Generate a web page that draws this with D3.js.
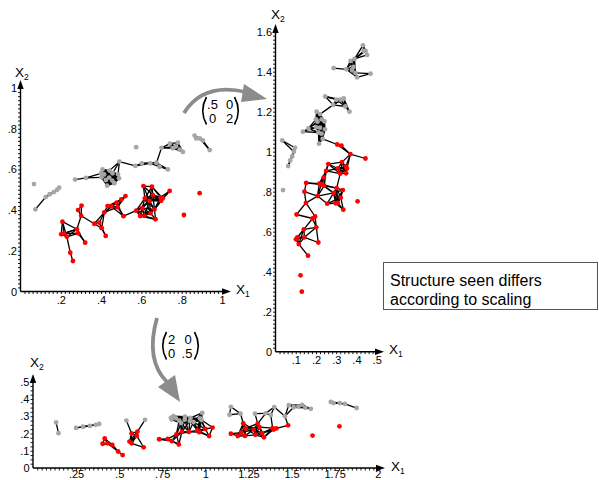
<!DOCTYPE html>
<html>
<head>
<meta charset="utf-8">
<script src="https://cdn.jsdelivr.net/npm/d3@7"></script>
<style>
  body { margin: 0; background: #fff; }
  svg text { font-family: "Liberation Sans", Arial, Helvetica, sans-serif; fill: #000; }
</style>
</head>
<body>
<svg id="fig" width="599" height="480"></svg>
<script>
// Class 1 (grey) samples, original units (x1, x2)
const greyX1 = [0.067, 0.074, 0.125, 0.145, 0.165, 0.182, 0.192, 0.271, 0.325,
  0.407, 0.400, 0.402, 0.430, 0.441, 0.457, 0.484, 0.489, 0.466, 0.424, 0.415, 0.440, 0.455,
  0.491, 0.574, 0.570, 0.602, 0.644, 0.675, 0.690, 0.731,
  0.700, 0.742, 0.781, 0.790, 0.806, 0.756, 0.770,
  0.864, 0.872, 0.890, 0.905, 0.939];
const greyX2 = [0.528, 0.404, 0.464, 0.478, 0.488, 0.500, 0.510, 0.550, 0.558,
  0.600, 0.581, 0.561, 0.520, 0.594, 0.581, 0.576, 0.556, 0.532, 0.548, 0.575, 0.560, 0.545,
  0.638, 0.709, 0.617, 0.630, 0.630, 0.633, 0.613, 0.600,
  0.706, 0.727, 0.732, 0.697, 0.686, 0.704, 0.712,
  0.766, 0.752, 0.752, 0.742, 0.695];

// Class 2 (red) samples, original units (x1, x2)
const redX1 = [0.208, 0.202, 0.216, 0.230, 0.247, 0.260, 0.280, 0.286, 0.321, 0.286, 0.303, 0.301,
  0.366, 0.391, 0.403, 0.423, 0.416, 0.432, 0.452, 0.477, 0.482, 0.500, 0.521, 0.511,
  0.574, 0.594, 0.604, 0.615, 0.617, 0.610, 0.652, 0.657, 0.665, 0.670, 0.695, 0.706, 0.698, 0.740, 0.640, 0.645,
  0.811, 0.889];
const redX2 = [0.343, 0.281, 0.286, 0.269, 0.191, 0.150, 0.306, 0.286, 0.240, 0.400, 0.422, 0.372,
  0.333, 0.338, 0.311, 0.273, 0.389, 0.420, 0.418, 0.436, 0.415, 0.452, 0.469, 0.370,
  0.397, 0.371, 0.409, 0.372, 0.458, 0.518, 0.515, 0.474, 0.404, 0.355, 0.463, 0.458, 0.446, 0.494, 0.445, 0.385,
  0.376, 0.483];

// Diagonal scaling applied to each view: [factor on x1, factor on x2]
const scalings = [[1, 1], [0.5, 2], [2, 0.5]];

// Tick values per view
const xTicksA = [0.2, 0.4, 0.6, 0.8, 1];
const yTicksA = [0, 0.2, 0.4, 0.6, 0.8, 1];
const xTicksB = [0.1, 0.2, 0.3, 0.4, 0.5];
const yTicksB = [0, 0.2, 0.4, 0.6, 0.8, 1, 1.2, 1.4, 1.6];
const xTicksC = [0.25, 0.5, 0.75, 1, 1.25, 1.5, 1.75, 2];
const yTicksC = [0, 0.1, 0.2, 0.3, 0.4, 0.5];

// Points closer than this (in each view's own units) are joined
const linkRadius = 0.082;

const svg = d3.select("#fig");
const fmt = v => String(v).replace(/^0\./, ".");

const samples = greyX1.map((v, i) => ({ x1: v, x2: greyX2[i], cls: "grey" }))
  .concat(redX1.map((v, i) => ({ x1: v, x2: redX2[i], cls: "red" })));

const views = [
  { s: scalings[0], xd: [0, 1], yd: [0, 1], xr: [20.5, 222], yr: [291.5, 88],
    xt: xTicksA, yt: yTicksA, xm: 0.02, ym: 0.02, xEnd: 231, yEnd: 80, xPad: 4.5,
    x1Lab: [236, 294], x2Lab: [15, 77] },
  { s: scalings[1], xd: [0, 0.5], yd: [0, 1.6], xr: [275.5, 376.7], yr: [351.7, 31.7],
    xt: xTicksB, yt: yTicksB, xm: 0.02, ym: 0.02, xEnd: 384, yEnd: 24, xPad: 4.5,
    x1Lab: [389, 354], x2Lab: [271, 19] },
  { s: scalings[2], xd: [0, 2], yd: [0, 0.5], xr: [33, 377.7], yr: [468, 381.7],
    xt: xTicksC, yt: yTicksC, xm: 0.025, ym: 0.025, xEnd: 385, yEnd: 374, xPad: 2,
    x1Lab: [391, 471], x2Lab: [30, 367] }
];

function axisTitle(g, pos, sub) {
  const t = g.append("text").attr("x", pos[0]).attr("y", pos[1]).attr("font-size", 13.5);
  t.append("tspan").text("X");
  t.append("tspan").attr("font-size", 8.5).attr("dy", 3).text(sub);
}

views.forEach(v => {
  const g = svg.append("g");
  const x = d3.scaleLinear().domain(v.xd).range(v.xr);
  const y = d3.scaleLinear().domain(v.yd).range(v.yr);
  const ox = x(0), oy = y(0);

  // minor ticks
  const nx = Math.round(v.xd[1] / v.xm), ny = Math.round(v.yd[1] / v.ym);
  g.append("g").attr("transform", `translate(0,${oy})`)
    .call(d3.axisBottom(x).tickValues(d3.range(1, nx + 1).map(i => i * v.xm)).tickSize(2.5).tickFormat(""))
    .call(a => a.select(".domain").remove())
    .selectAll("line").attr("stroke", "#000").attr("stroke-width", 0.9);
  g.append("g").attr("transform", `translate(${ox},0)`)
    .call(d3.axisLeft(y).tickValues(d3.range(1, ny + 1).map(i => i * v.ym)).tickSize(2.5).tickFormat(""))
    .call(a => a.select(".domain").remove())
    .selectAll("line").attr("stroke", "#000").attr("stroke-width", 0.9);

  // tick labels
  g.append("g").attr("transform", `translate(0,${oy})`)
    .call(d3.axisBottom(x).tickValues(v.xt).tickFormat(fmt).tickSizeInner(0).tickSizeOuter(0).tickPadding(v.xPad))
    .call(a => a.select(".domain").remove())
    .selectAll("text").attr("font-size", 11).attr("fill", "#000")
    .attr("font-family", "Liberation Sans, Arial, sans-serif");
  g.append("g").attr("transform", `translate(${ox},0)`)
    .call(d3.axisLeft(y).tickValues(v.yt).tickFormat(fmt).tickSizeInner(0).tickSizeOuter(0).tickPadding(3.5))
    .call(a => a.select(".domain").remove())
    .selectAll("text").attr("font-size", 11).attr("fill", "#000")
    .attr("font-family", "Liberation Sans, Arial, sans-serif");

  // axis lines with arrowheads
  g.append("line").attr("x1", ox).attr("y1", oy).attr("x2", v.xEnd - 6).attr("y2", oy)
    .attr("stroke", "#000").attr("stroke-width", 1.4);
  g.append("line").attr("x1", ox).attr("y1", oy).attr("x2", ox).attr("y2", v.yEnd + 6)
    .attr("stroke", "#000").attr("stroke-width", 1.4);
  g.append("path").attr("d", `M${v.xEnd},${oy} L${v.xEnd - 9},${oy - 3.2} L${v.xEnd - 9},${oy + 3.2} Z`).attr("fill", "#000");
  g.append("path").attr("d", `M${ox},${v.yEnd} L${ox - 3.2},${v.yEnd + 9} L${ox + 3.2},${v.yEnd + 9} Z`).attr("fill", "#000");

  axisTitle(g, v.x1Lab, "1");
  axisTitle(g, v.x2Lab, "2");

  // samples in this view's units
  const pts = samples.map(p => ({ u: p.x1 * v.s[0], w: p.x2 * v.s[1], cls: p.cls }));
  const links = [];
  for (let i = 0; i < pts.length; i++)
    for (let j = i + 1; j < pts.length; j++)
      if (Math.hypot(pts[i].u - pts[j].u, pts[i].w - pts[j].w) < linkRadius) links.push([pts[i], pts[j]]);

  g.append("g").selectAll("line").data(links).join("line")
    .attr("x1", d => x(d[0].u)).attr("y1", d => y(d[0].w))
    .attr("x2", d => x(d[1].u)).attr("y2", d => y(d[1].w))
    .attr("stroke", "#000").attr("stroke-width", 1.3);

  g.append("g").selectAll("circle").data(pts).join("circle")
    .attr("cx", d => x(d.u)).attr("cy", d => y(d.w)).attr("r", 2.4)
    .attr("fill", d => d.cls === "red" ? "#ff0000" : "#a6a6a6");
});

// curved arrows between views
const arrowGrey = "#8c8c8c";
svg.append("path").attr("d", "M184,113 Q203,82 246,92").attr("fill", "none")
  .attr("stroke", arrowGrey).attr("stroke-width", 3.8);
svg.append("path").attr("d", "M244,84 L267,99 L241,102 Z").attr("fill", arrowGrey);
svg.append("path").attr("d", "M157,318 Q145,360 167,382").attr("fill", "none")
  .attr("stroke", arrowGrey).attr("stroke-width", 3.8);
svg.append("path").attr("d", "M158,387 L175,375 L180,402 Z").attr("fill", arrowGrey);

// scaling matrices
function matrix(left, top, cells) {
  const g = svg.append("g");
  const h = 27.5;
  g.append("path").attr("d", `M${left + 5.5},${top} Q${left - 2},${top + h / 2} ${left + 5.5},${top + h}`)
    .attr("fill", "none").attr("stroke", "#000").attr("stroke-width", 1.6);
  g.append("path").attr("d", `M${left + 33.5},${top} Q${left + 41},${top + h / 2} ${left + 33.5},${top + h}`)
    .attr("fill", "none").attr("stroke", "#000").attr("stroke-width", 1.6);
  cells.forEach(c => g.append("text").attr("x", left + c[0]).attr("y", top + c[1])
    .attr("font-size", 13).attr("text-anchor", "middle").text(c[2]));
}
matrix(201, 97, [[11.5, 11.5, ".5"], [28.5, 11.5, "0"], [11.5, 25.5, "0"], [28.5, 25.5, "2"]]);
matrix(161, 332, [[10.5, 12, "2"], [27, 12, "0"], [10.5, 25.5, "0"], [26, 25.5, ".5"]]);

// note box
svg.append("rect").attr("x", 383.5).attr("y", 262.5).attr("width", 214).attr("height", 47)
  .attr("fill", "#fff").attr("stroke", "#555").attr("stroke-width", 1);
svg.append("text").attr("x", 390).attr("y", 286).attr("font-size", 16).text("Structure seen differs");
svg.append("text").attr("x", 390).attr("y", 304.5).attr("font-size", 16).text("according to scaling");
</script>
</body>
</html>
